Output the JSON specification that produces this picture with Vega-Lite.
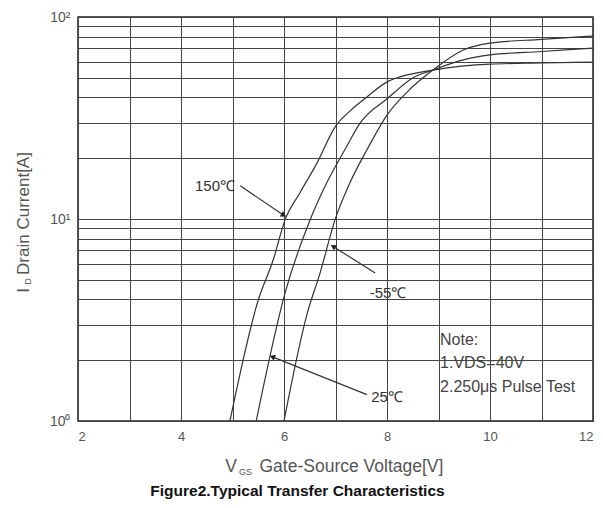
{
  "$schema": "https://vega.github.io/schema/vega-lite/v6.json",
  "width": 515,
  "height": 404,
  "autosize": {"type": "none"},
  "padding": {"left": 78, "top": 17, "right": 10, "bottom": 87},
  "background": "white",
  "config": {
    "view": {"stroke": "#222", "strokeWidth": 1.5},
    "font": "Liberation Sans"
  },
  "title": {
    "text": "Figure2.Typical Transfer Characteristics",
    "orient": "bottom",
    "anchor": "middle",
    "dx": -38,
    "offset": 8,
    "font": "Liberation Sans",
    "fontSize": 15.5,
    "fontWeight": "bold",
    "color": "#111"
  },
  "datasets": {
    "curves": [
      {"temp": "150", "vgs": 4.95, "id": 1.0},
      {"temp": "150", "vgs": 5.5, "id": 3.97},
      {"temp": "150", "vgs": 5.79, "id": 6.27},
      {"temp": "150", "vgs": 6.02, "id": 9.9},
      {"temp": "150", "vgs": 6.31, "id": 13.5},
      {"temp": "150", "vgs": 6.64, "id": 18.9},
      {"temp": "150", "vgs": 6.99, "id": 28.5},
      {"temp": "150", "vgs": 7.3, "id": 34.6},
      {"temp": "150", "vgs": 7.61, "id": 40.2},
      {"temp": "150", "vgs": 8.02, "id": 48.0},
      {"temp": "150", "vgs": 8.25, "id": 50.5},
      {"temp": "150", "vgs": 8.89, "id": 54.6},
      {"temp": "150", "vgs": 10.0, "id": 58.5},
      {"temp": "150", "vgs": 11.0, "id": 59.2},
      {"temp": "150", "vgs": 12.0, "id": 59.8},
      {"temp": "25", "vgs": 5.46, "id": 1.0},
      {"temp": "25", "vgs": 6.02, "id": 4.3},
      {"temp": "25", "vgs": 6.5, "id": 9.8},
      {"temp": "25", "vgs": 6.83, "id": 15.1},
      {"temp": "25", "vgs": 7.18, "id": 22.0},
      {"temp": "25", "vgs": 7.48, "id": 29.9},
      {"temp": "25", "vgs": 8.02, "id": 39.7},
      {"temp": "25", "vgs": 8.5, "id": 49.9},
      {"temp": "25", "vgs": 8.89, "id": 54.6},
      {"temp": "25", "vgs": 9.48, "id": 61.3},
      {"temp": "25", "vgs": 10.0, "id": 64.9},
      {"temp": "25", "vgs": 11.0, "id": 67.5},
      {"temp": "25", "vgs": 12.0, "id": 70.2},
      {"temp": "-55", "vgs": 6.0, "id": 1.0},
      {"temp": "-55", "vgs": 6.45, "id": 3.4},
      {"temp": "-55", "vgs": 6.7, "id": 5.4},
      {"temp": "-55", "vgs": 6.99, "id": 9.9},
      {"temp": "-55", "vgs": 7.28, "id": 15.1},
      {"temp": "-55", "vgs": 7.61, "id": 22.0},
      {"temp": "-55", "vgs": 8.0, "id": 32.7},
      {"temp": "-55", "vgs": 8.39, "id": 42.5},
      {"temp": "-55", "vgs": 8.89, "id": 54.6},
      {"temp": "-55", "vgs": 9.48, "id": 68.7},
      {"temp": "-55", "vgs": 10.0, "id": 74.3},
      {"temp": "-55", "vgs": 11.0, "id": 77.5},
      {"temp": "-55", "vgs": 12.0, "id": 80.5}
    ],
    "callouts": [
      {"label": "150℃", "tx": 4.66, "ty": 14.6, "x0": 5.15, "y0": 14.6, "x1": 5.98, "y1": 10.5},
      {"label": "-55℃", "tx": 8.02, "ty": 4.3, "x0": 7.77, "y0": 5.4, "x1": 6.97, "y1": 7.27},
      {"label": "25℃", "tx": 8.0, "ty": 1.31, "x0": 7.61, "y0": 1.35, "x1": 5.79, "y1": 2.07}
    ],
    "note": [
      {"line": "Note:", "vgs": 9.03, "id": 2.52},
      {"line": "1.VDS=40V", "vgs": 9.03, "id": 1.94},
      {"line": "2.250μs Pulse Test", "vgs": 9.03, "id": 1.47}
    ]
  },
  "layer": [
    {
      "layer": [
        {
          "data": {"name": "curves"},
          "mark": {"type": "line", "interpolate": "monotone", "stroke": "#333", "strokeWidth": 1.2, "clip": true},
          "encoding": {
            "x": {
              "field": "vgs", "type": "quantitative",
              "scale": {"domain": [2, 12], "nice": false, "zero": false},
              "axis": {
                "orient": "bottom",
                "values": [2, 3, 4, 5, 6, 7, 8, 9, 10, 11, 12],
                "labelExpr": "datum.value % 2 == 0 ? datum.label : ''",
                "grid": true, "gridColor": "#444", "gridWidth": 1, "gridOpacity": 1,
                "ticks": false, "domain": false,
                "labelFontSize": 13, "labelColor": "#555", "labelPadding": 9,
                "labelFont": "Liberation Sans",
                "title": "Gate-Source Voltage[V]",
                "titleFont": "Liberation Sans", "titleFontSize": 17.5, "titleFontWeight": "normal",
                "titleColor": "#555", "titleX": 181, "titleY": 45,
                "titleAlign": "left", "titleBaseline": "middle"
              }
            },
            "y": {
              "field": "id", "type": "quantitative",
              "scale": {"type": "log", "domain": [1, 100], "nice": false},
              "axis": {
                "orient": "left",
                "values": [1, 2, 3, 4, 5, 6, 7, 8, 9, 10, 20, 30, 40, 50, 60, 70, 80, 90, 100],
                "labelExpr": "datum.value == 1 ? '10⁰' : datum.value == 10 ? '10¹' : datum.value == 100 ? '10²' : ''",
                "grid": true, "gridColor": "#444", "gridWidth": 1, "gridOpacity": 1,
                "ticks": false, "domain": false,
                "labelFontSize": 14, "labelColor": "#555", "labelPadding": 8,
                "labelFont": "Liberation Sans",
                "title": "Drain Current[A]",
                "titleFont": "Liberation Sans", "titleFontSize": 17, "titleFontWeight": "normal",
                "titleColor": "#555", "titleX": -55, "titleY": 196,
                "titleAlign": "center", "titleBaseline": "middle", "titleAngle": -90
              }
            },
            "detail": {"field": "temp"}
          }
        },
        {
          "data": {"name": "callouts"},
          "mark": {"type": "rule", "stroke": "#333", "strokeWidth": 1.2},
          "encoding": {
            "x": {"field": "x0", "type": "quantitative"},
            "y": {"field": "y0", "type": "quantitative"},
            "x2": {"field": "x1"},
            "y2": {"field": "y1"}
          }
        },
        {
          "data": {"name": "callouts"},
          "transform": [{"filter": "datum.label == '150℃'"}],
          "mark": {"type": "point", "shape": "triangle", "filled": true, "color": "#222", "size": 40, "angle": 122, "opacity": 1},
          "encoding": {
            "x": {"field": "x1", "type": "quantitative"},
            "y": {"field": "y1", "type": "quantitative"}
          }
        },
        {
          "data": {"name": "callouts"},
          "transform": [{"filter": "datum.label == '-55℃'"}],
          "mark": {"type": "point", "shape": "triangle", "filled": true, "color": "#222", "size": 40, "angle": 302, "opacity": 1},
          "encoding": {
            "x": {"field": "x1", "type": "quantitative"},
            "y": {"field": "y1", "type": "quantitative"}
          }
        },
        {
          "data": {"name": "callouts"},
          "transform": [{"filter": "datum.label == '25℃'"}],
          "mark": {"type": "point", "shape": "triangle", "filled": true, "color": "#222", "size": 40, "angle": 292, "opacity": 1},
          "encoding": {
            "x": {"field": "x1", "type": "quantitative"},
            "y": {"field": "y1", "type": "quantitative"}
          }
        },
        {
          "data": {"name": "callouts"},
          "mark": {"type": "text", "font": "Liberation Sans", "fontSize": 15, "color": "#333", "align": "center", "baseline": "middle"},
          "encoding": {
            "x": {"field": "tx", "type": "quantitative"},
            "y": {"field": "ty", "type": "quantitative"},
            "text": {"field": "label"}
          }
        },
        {
          "data": {"name": "note"},
          "mark": {"type": "text", "font": "Liberation Sans", "fontSize": 16, "color": "#444", "align": "left", "baseline": "middle"},
          "encoding": {
            "x": {"field": "vgs", "type": "quantitative"},
            "y": {"field": "id", "type": "quantitative"},
            "text": {"field": "line"}
          }
        }
      ]
    },
    {
      "data": {"values": [{"vgs": 2, "id": 1}]},
      "mark": {"type": "point", "opacity": 0},
      "encoding": {
        "x": {
          "field": "vgs", "type": "quantitative",
          "scale": {"domain": [2, 12], "nice": false, "zero": false},
          "axis": {
            "orient": "bottom", "labels": false, "ticks": false, "domain": false, "grid": false,
            "title": "GS", "titleFont": "Liberation Sans", "titleFontSize": 9, "titleFontWeight": "normal",
            "titleColor": "#555", "titleX": 167, "titleY": 50, "titleAlign": "center", "titleBaseline": "middle"
          }
        },
        "y": {
          "field": "id", "type": "quantitative",
          "scale": {"type": "log", "domain": [1, 100], "nice": false},
          "axis": {
            "orient": "left", "labels": false, "ticks": false, "domain": false, "grid": false,
            "title": "D", "titleFont": "Liberation Sans", "titleFontSize": 9, "titleFontWeight": "normal",
            "titleColor": "#555", "titleX": -51, "titleY": 264, "titleAngle": -90,
            "titleAlign": "center", "titleBaseline": "middle"
          }
        }
      }
    },
    {
      "data": {"values": [{"vgs": 2, "id": 1}]},
      "mark": {"type": "point", "opacity": 0},
      "encoding": {
        "x": {
          "field": "vgs", "type": "quantitative",
          "scale": {"domain": [2, 12], "nice": false, "zero": false},
          "axis": {
            "orient": "bottom", "labels": false, "ticks": false, "domain": false, "grid": false,
            "title": "V", "titleFont": "Liberation Sans", "titleFontSize": 17.5, "titleFontWeight": "normal",
            "titleColor": "#555", "titleX": 152.5, "titleY": 45, "titleAlign": "center", "titleBaseline": "middle"
          }
        },
        "y": {
          "field": "id", "type": "quantitative",
          "scale": {"type": "log", "domain": [1, 100], "nice": false},
          "axis": {
            "orient": "left", "labels": false, "ticks": false, "domain": false, "grid": false,
            "title": "I", "titleFont": "Liberation Sans", "titleFontSize": 17, "titleFontWeight": "normal",
            "titleColor": "#555", "titleX": -55, "titleY": 273, "titleAngle": -90,
            "titleAlign": "center", "titleBaseline": "middle"
          }
        }
      }
    }
  ],
  "resolve": {
    "scale": {"x": "independent", "y": "independent"},
    "axis": {"x": "independent", "y": "independent"}
  }
}
